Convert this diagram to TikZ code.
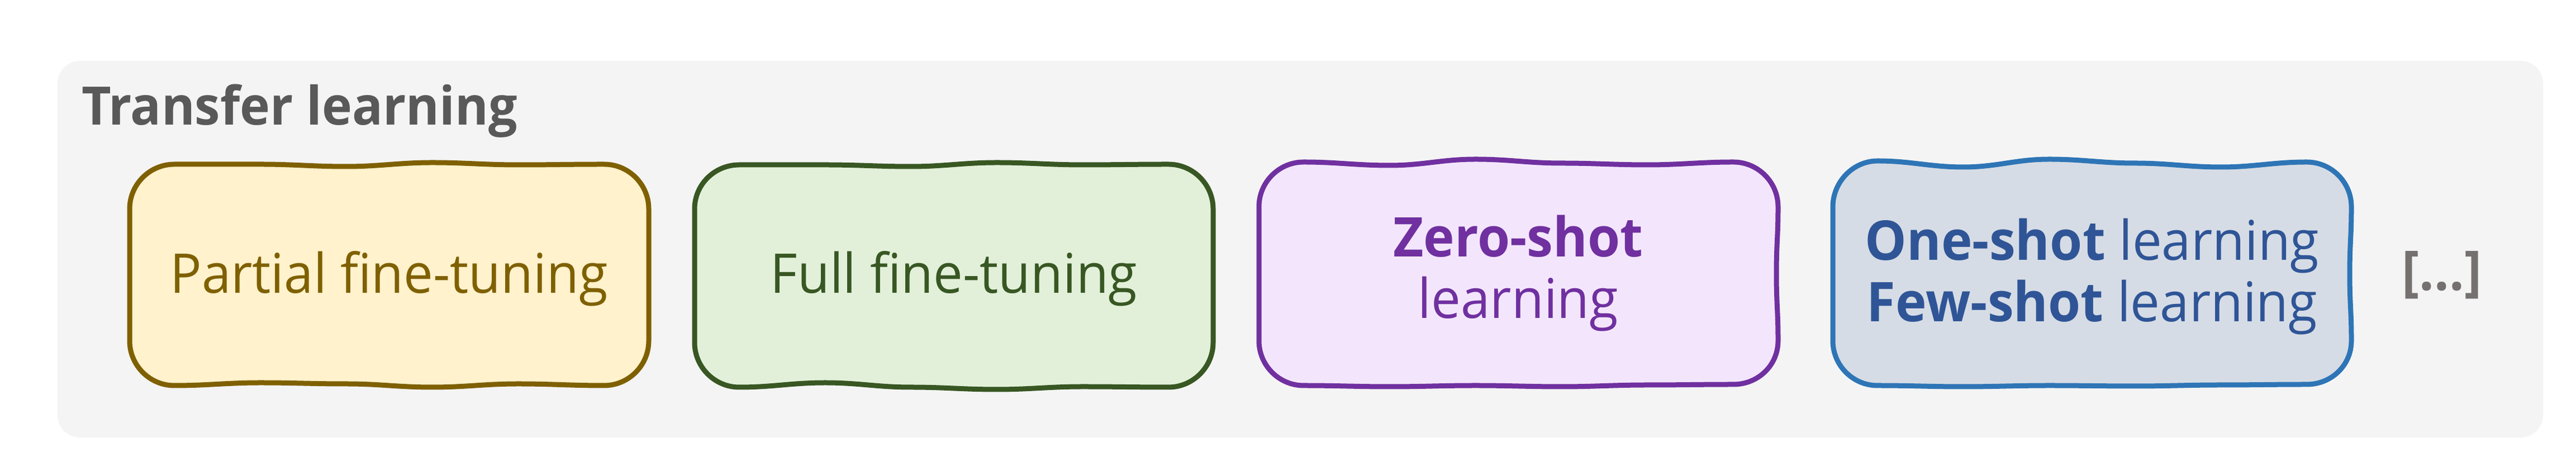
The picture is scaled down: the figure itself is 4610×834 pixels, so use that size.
\documentclass[tikz,border=0pt]{standalone}
\usepackage{fontspec}
\setmainfont{Open Sans}[FakeStretch=0.96]
\definecolor{panelc}{HTML}{F4F4F4}
\definecolor{titlec}{HTML}{595959}
\definecolor{brc}{HTML}{767171}
\definecolor{fillA}{HTML}{FFF2CC}\definecolor{lineA}{HTML}{7F6000}
\definecolor{fillB}{HTML}{E2F0D9}\definecolor{lineB}{HTML}{385723}
\definecolor{fillC}{HTML}{F3E6FC}\definecolor{lineC}{HTML}{7030A0}
\definecolor{fillD}{HTML}{D6DCE5}\definecolor{lineD}{HTML}{2E75B6}\definecolor{textD}{HTML}{2F5597}
\newcommand\skoff[6]{\def\tA{#1}\def\tB{#2}\def\tC{#3}\def\tD{#4}\def\tE{#5}\def\tF{#6}}
\newcommand\skboff[6]{\def\bA{#1}\def\bB{#2}\def\bC{#3}\def\bD{#4}\def\bE{#5}\def\bF{#6}}
\newcommand\sksides[2]{\def\lS{#1}\def\rS{#2}}
\def\skr{80}\def\skk{44}
\newcommand\skbox[5]{%
  \pgfmathsetmacro\skw{(#4-#2-2*\skr)/5}%
  \path[#1] ({#2+\skr},{#3+\tA})
   .. controls +(60,0) and +(-60,0) .. ({#2+\skr+\skw},{#3+\tB})
   .. controls +(60,0) and +(-60,0) .. ({#2+\skr+2*\skw},{#3+\tC})
   .. controls +(60,0) and +(-60,0) .. ({#2+\skr+3*\skw},{#3+\tD})
   .. controls +(60,0) and +(-60,0) .. ({#2+\skr+4*\skw},{#3+\tE})
   .. controls +(60,0) and +(-60,0) .. ({#4-\skr},{#3+\tF})
   .. controls +(\skk,0) and +(0,-\skk) .. ({#4},{#3+\skr})
   .. controls +(0,55) and +(0,-55) .. ({#4+\rS},{(#3+#5)/2})
   .. controls +(0,55) and +(0,-55) .. ({#4},{#5-\skr})
   .. controls +(0,\skk) and +(\skk,0) .. ({#4-\skr},{#5+\bF})
   .. controls +(-60,0) and +(60,0) .. ({#2+\skr+4*\skw},{#5+\bE})
   .. controls +(-60,0) and +(60,0) .. ({#2+\skr+3*\skw},{#5+\bD})
   .. controls +(-60,0) and +(60,0) .. ({#2+\skr+2*\skw},{#5+\bC})
   .. controls +(-60,0) and +(60,0) .. ({#2+\skr+\skw},{#5+\bB})
   .. controls +(-60,0) and +(60,0) .. ({#2+\skr},{#5+\bA})
   .. controls +(-\skk,0) and +(0,\skk) .. ({#2},{#5-\skr})
   .. controls +(0,-55) and +(0,55) .. ({#2+\lS},{(#3+#5)/2})
   .. controls +(0,-55) and +(0,55) .. ({#2},{#3+\skr})
   .. controls +(0,-\skk) and +(-\skk,0) .. ({#2+\skr},{#3+\tA}) -- cycle;}
\tikzset{
  sk/.style={line width=1.8pt, line join=round},
  lbl/.style={inner sep=0pt, font=\fontsize{19.6}{22}\selectfont, align=center},
  ttl/.style={inner sep=0pt, font=\fontsize{19}{22}\selectfont\bfseries, text=titlec},
}
\begin{document}
\begin{tikzpicture}[x=0.2pt,y=-0.2pt]
\useasboundingbox (0,0) rectangle (4610,834);
\fill[panelc, rounded corners=8pt] (103,109) rectangle (4551,783);
\node[ttl, anchor=base west] (title) at (145,224) {Transfer learning};
% box 1
\skoff{0}{0}{4}{-3}{1}{0}\skboff{0}{-5}{-3}{3}{-3}{0}\sksides{0}{0}
\skbox{sk, fill=fillA, draw=lineA}{232}{294}{1161}{690}
% box 2
\skoff{1}{1}{4}{-3}{1}{0}\skboff{0}{-8}{0}{4}{-1}{0}\sksides{0}{0}
\skbox{sk, fill=fillB, draw=lineB}{1243}{294}{2171}{693}
% box 3
\skoff{0}{6}{-5}{2}{5}{0}\skboff{0}{2}{0}{2}{-1}{-2}\sksides{0}{-3}
\skbox{sk, fill=fillC, draw=lineC}{2253}{290}{3182}{690}
% box 4
\skoff{-2}{9}{-5}{2}{9}{0}\skboff{0}{2}{0}{1}{-1}{-2}\sksides{0}{-3}
\skbox{sk, fill=fillD, draw=lineD}{3280}{290}{4208}{690}
\node[lbl, text=lineA, anchor=base] (partial) at (696,525) {Partial fine-tuning};
\node[lbl, text=lineB, anchor=base] (full) at (1707,525) {Full fine-tuning};
\node[lbl, text=lineC, anchor=base] (zero) at (2717,570) {\textbf{Zero-shot}\\learning};
\node[lbl, text=textD, anchor=base] (onefew) at (3744,576) {\textbf{One-shot} learning\\\textbf{Few-shot} learning};
\node[lbl, text=brc, font=\fontsize{19.6}{22}\selectfont\bfseries, anchor=base] (more) at (4370,520) {[...]};
\end{tikzpicture}
\end{document}
